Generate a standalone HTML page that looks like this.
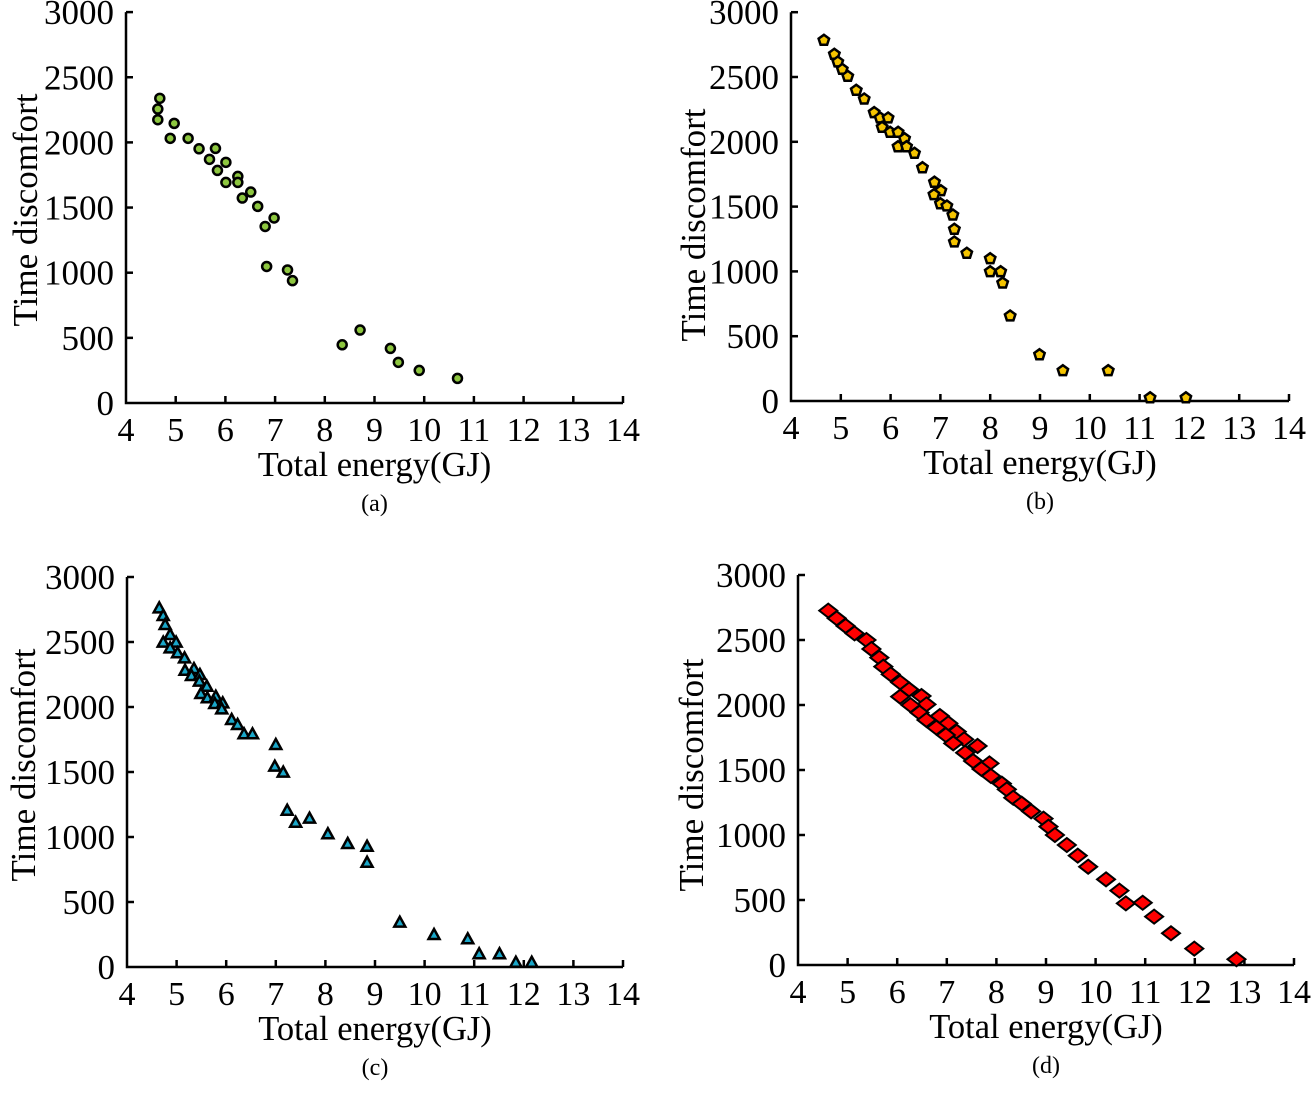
<!DOCTYPE html>
<html><head><meta charset="utf-8">
<style>
html,body{margin:0;padding:0;background:#fff;}
svg text{font-family:"Liberation Serif",serif;fill:#000;}
</style></head>
<body>
<svg id="fig" width="1311" height="1089" viewBox="0 0 1311 1089" xmlns="http://www.w3.org/2000/svg"></svg>
<script>
const xTicks=[4,5,6,7,8,9,10,11,12,13,14];
const yTicks=[0,500,1000,1500,2000,2500,3000];
const aX=[4.68,4.64,4.64,4.97,4.89,5.25,5.47,5.80,5.68,6.01,5.84,6.01,6.25,6.25,6.51,6.34,6.65,6.98,6.80,6.83,7.25,7.35,8.35,8.71,9.32,9.48,9.90,10.67];
const aY=[2338,2256,2174,2146,2031,2031,1951,1954,1870,1847,1785,1693,1739,1693,1619,1573,1509,1420,1355,1048,1021,939,447,560,419,312,250,189];
const bX=[4.66,4.87,4.94,5.03,5.14,5.31,5.47,5.67,5.79,5.95,5.83,5.99,6.15,6.28,6.15,6.32,6.48,6.64,6.88,7.01,6.87,7.00,7.13,7.25,7.28,7.28,7.53,8.00,8.00,8.21,8.25,8.40,8.99,9.46,10.37,11.21,11.93];
const bY=[2783,2675,2616,2559,2505,2397,2330,2225,2184,2184,2112,2073,2073,2024,1962,1962,1911,1800,1688,1623,1592,1522,1505,1435,1325,1227,1140,1098,998,998,910,656,357,234,234,25,25];
const cX=[4.65,4.73,4.77,4.87,4.73,4.99,4.87,5.02,5.16,5.17,5.35,5.30,5.47,5.46,5.61,5.49,5.62,5.79,5.77,5.93,5.91,6.11,6.23,6.36,6.53,7.00,6.98,7.15,7.23,7.40,7.68,8.05,8.45,8.84,8.84,9.50,10.19,10.87,11.10,11.51,11.84,12.16];
const cY=[2759,2700,2631,2554,2495,2495,2451,2413,2374,2279,2292,2238,2246,2195,2156,2100,2067,2079,2023,2028,1982,1900,1862,1790,1790,1708,1541,1495,1202,1110,1141,1021,946,925,802,341,246,213,98,98,33,33];
const dX=[4.61,4.78,4.96,5.14,5.38,5.48,5.64,5.72,5.87,6.06,6.24,6.06,6.49,6.59,6.27,6.45,6.86,7.03,6.59,6.79,7.20,6.98,7.35,7.13,7.62,7.37,7.53,7.86,7.70,7.89,8.11,8.21,8.34,8.51,8.70,8.95,9.05,9.18,9.42,9.64,9.85,10.21,10.48,10.61,10.95,11.18,11.52,11.99,12.84];
const dY=[2726,2667,2608,2551,2500,2431,2364,2295,2236,2174,2120,2064,2069,2005,1999,1941,1915,1859,1885,1826,1795,1769,1736,1705,1685,1633,1569,1551,1508,1454,1395,1351,1287,1241,1182,1126,1064,1000,923,841,756,659,572,474,479,372,244,126,44];

const NS="http://www.w3.org/2000/svg";
const svg=document.getElementById('fig');
function mk(tag,attrs,parent){const e=document.createElementNS(NS,tag);for(const k in attrs)e.setAttribute(k,attrs[k]);(parent||svg).appendChild(e);return e;}

const panels=[
 {id:'a',x0:126,y0:403,ppx:49.7,ppy:0.1303,xs:aX,ys:aY,marker:'circle',fill:'#8dc63f',ytX:22,ytY:210,cap:'(a)'},
 {id:'b',x0:791,y0:401,ppx:49.8,ppy:0.1296,xs:bX,ys:bY,marker:'pentagon',fill:'#f5c400',ytX:690,ytY:225,cap:'(b)'},
 {id:'c',x0:127,y0:967,ppx:49.6,ppy:0.13,xs:cX,ys:cY,marker:'triangle',fill:'#1aa7c9',ytX:20,ytY:765,cap:'(c)'},
 {id:'d',x0:798,y0:965,ppx:49.6,ppy:0.13,xs:dX,ys:dY,marker:'diamond',fill:'#ff0000',ytX:688,ytY:775,cap:'(d)'}
];

panels.forEach(p=>{
 const g=mk('g',{});
 
 
 const sx=v=>p.x0+(v-4)*p.ppx;
 const sy=v=>p.y0-v*p.ppy;
 const ax=mk('path',{d:`M${sx(4)},${sy(3000)} V${p.y0} H${sx(14)}`,fill:'none',stroke:'#000','stroke-width':2.5},g);
 
 
 yTicks.forEach(t=>{
  if(t>0){mk('line',{x1:sx(4),x2:sx(4)+7,y1:sy(t),y2:sy(t),stroke:'#000','stroke-width':2.5},g);}
  const tx=mk('text',{x:sx(4)-12,y:sy(t)+12,'font-size':35,'text-anchor':'end'},g);
  tx.textContent=t;
  
  
 });
 xTicks.forEach(t=>{
  if(t>4){mk('line',{x1:sx(t),x2:sx(t),y1:p.y0,y2:p.y0-7,stroke:'#000','stroke-width':2.5},g);}
  const tx=mk('text',{x:sx(t),y:p.y0+38,'font-size':34,'text-anchor':'middle'},g);
  tx.textContent=t;
  
  
 });
 const xt=mk('text',{x:sx(9),y:p.y0+73,'font-size':34.5,'text-anchor':'middle'},g);
 xt.textContent='Total energy(GJ)';
 
 
 const yt=mk('text',{x:0,y:0,'font-size':35,'text-anchor':'middle',transform:`translate(${p.ytX+15},${p.ytY}) rotate(-90)`},g);
 yt.textContent='Time discomfort';
 
 
 const cp=mk('text',{x:sx(9),y:p.y0+108,'font-size':24,'text-anchor':'middle'},g);
 cp.textContent=p.cap;
 
 
 p.xs.forEach((v,i)=>{
  const cx=sx(v),cy=sy(p.ys[i]);let m;
  if(p.marker==='circle'){m=mk('circle',{cx:cx,cy:cy,r:4.5,fill:p.fill,stroke:'#000','stroke-width':2.5},g);}
  else if(p.marker==='pentagon'){let pts=[];for(let k=0;k<5;k++){const a=-Math.PI/2+k*2*Math.PI/5;pts.push((cx+5.5*Math.cos(a)).toFixed(1)+','+(cy+5.5*Math.sin(a)).toFixed(1));}
   m=mk('polygon',{points:pts.join(' '),fill:p.fill,stroke:'#000','stroke-width':2.5},g);}
  else if(p.marker==='triangle'){m=mk('polygon',{points:`${cx},${cy-6} ${cx+5.5},${cy+4} ${cx-5.5},${cy+4}`,fill:p.fill,stroke:'#000','stroke-width':2.5},g);}
  else {m=mk('polygon',{points:`${cx},${cy-7} ${cx+9},${cy} ${cx},${cy+7} ${cx-9},${cy}`,fill:p.fill,stroke:'#000','stroke-width':2},g);}
  
  
 });
});
</script>
</body></html>
